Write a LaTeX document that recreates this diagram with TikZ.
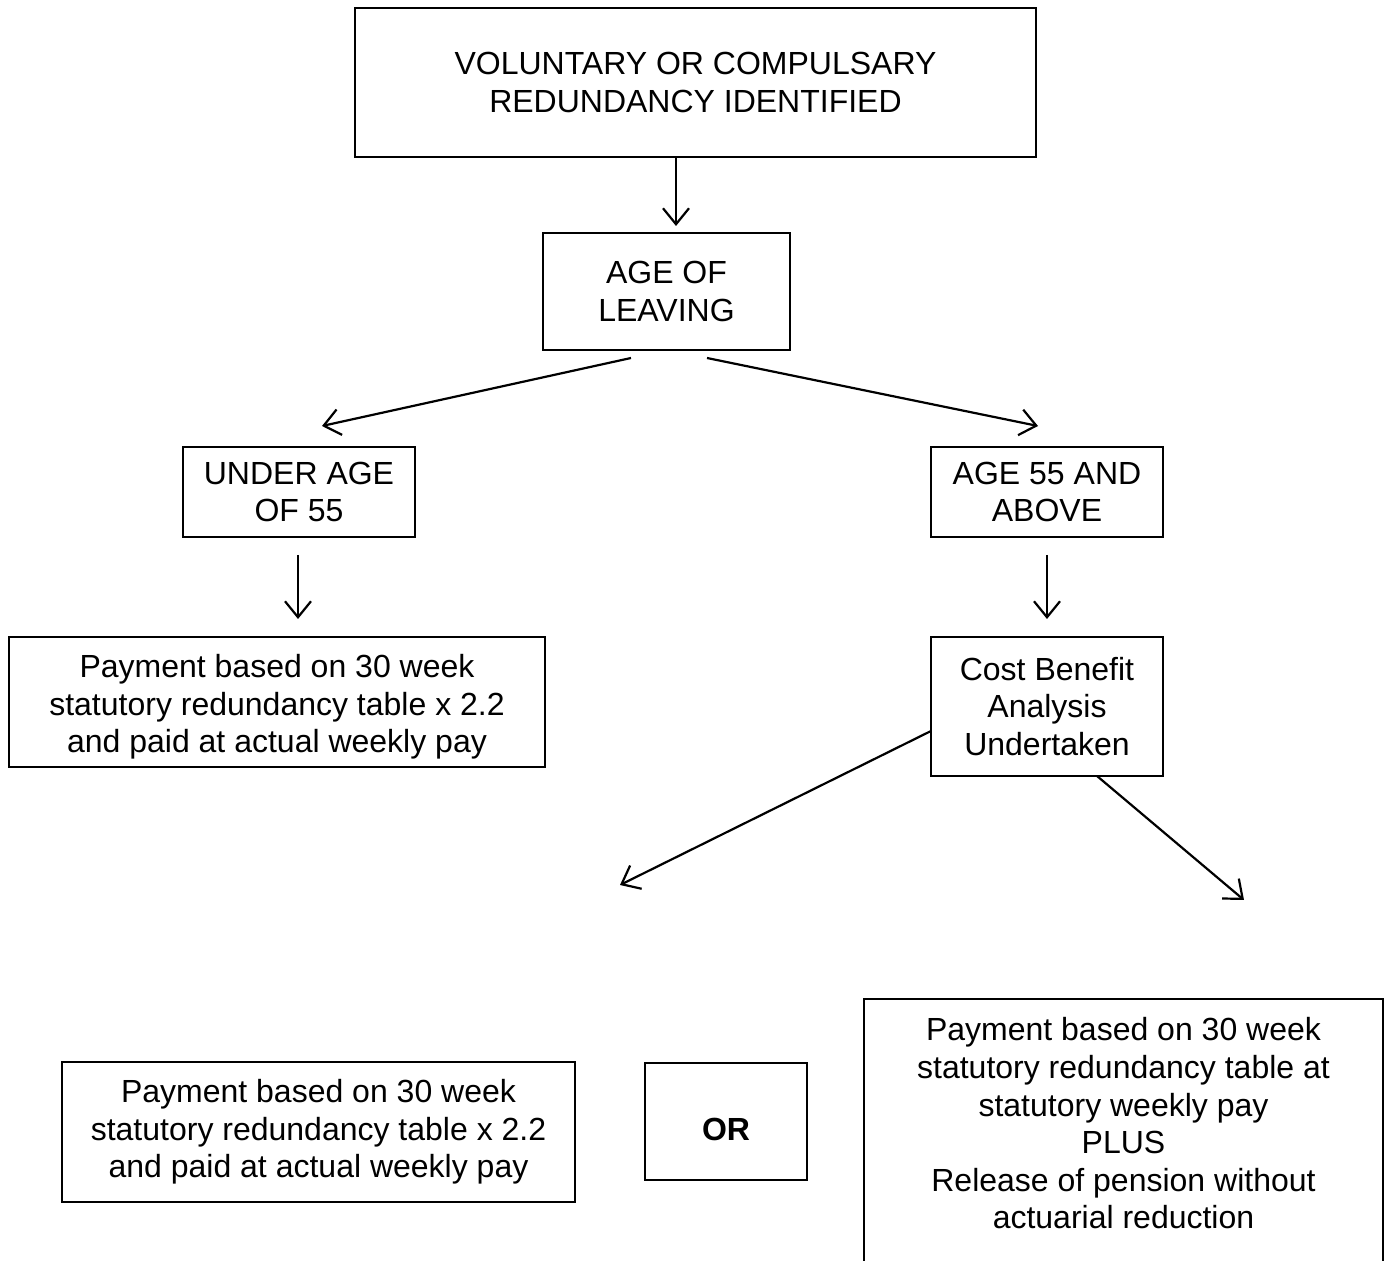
\documentclass[tikz,border=0pt]{standalone}
\usepackage{fontspec}
\setmainfont{Liberation Sans}
\usetikzlibrary{arrows.meta}
\begin{document}
\begin{tikzpicture}[x=0.5pt,y=-0.5pt,
  box/.style={draw, line width=1.1pt, inner sep=0pt, align=center,
    font=\fontsize{16pt}{18.8pt}\selectfont},
  arr/.style={line width=1.1pt, -{Straight Barb[length=8pt,width=13pt,line width=1.1pt]}}]
\useasboundingbox (0,0) rectangle (1388,1261);
\node[box, minimum width=340.5pt, minimum height=74.5pt] (top) at (695.5,82.5) {VOLUNTARY OR COMPULSARY\\REDUNDANCY IDENTIFIED};
\node[box, minimum width=123.5pt, minimum height=58.5pt] (age) at (666.5,291.5) {AGE OF\\LEAVING};
\node[box, minimum width=116pt, minimum height=45pt] (under) at (299,492) {UNDER AGE\\OF 55};
\node[box, minimum width=116pt, minimum height=45pt] (above) at (1047,492) {AGE 55 AND\\ABOVE};
\node[box, minimum width=268pt, minimum height=65pt] (payl) at (277,702) {};
\node[box, draw=none] (paylt) at (277,707) {Payment based on 30 week\\statutory redundancy table x 2.2\\and paid at actual weekly pay};
\node[box, minimum width=116pt, minimum height=69.5pt] (cost) at (1047,706.5) {Cost Benefit\\Analysis\\Undertaken};
\node[box, minimum width=256.5pt, minimum height=70pt] (payb) at (318.5,1132) {Payment based on 30 week\\statutory redundancy table x 2.2\\and paid at actual weekly pay};
\node[box, minimum width=81pt, minimum height=58.5pt] (or) at (726,1121.5) {};
\node[box, draw=none, font=\fontsize{16pt}{18.8pt}\selectfont\bfseries] (ort) at (726,1129) {OR};
\node[box, draw=none, minimum width=258.5pt, minimum height=130.5pt] (payr) at (1123.5,1130.5) {};
\node[box, draw=none] (payrt) at (1123.5,1123.5) {Payment based on 30 week\\statutory redundancy table at\\statutory weekly pay\\PLUS\\Release of pension without\\actuarial reduction};
\draw[line width=1.1pt] (payr.south west) -- (payr.north west) -- (payr.north east) -- (payr.south east);
% arrow end points
\coordinate (a1s) at (676,157);  \coordinate (a1e) at (676,226);
\coordinate (a2s) at (631,358);  \coordinate (a2e) at (322,426);
\coordinate (a3s) at (707,358);  \coordinate (a3e) at (1038,426);
\coordinate (a4s) at (298,555);  \coordinate (a4e) at (298,619);
\coordinate (a5s) at (1047,555); \coordinate (a5e) at (1047,619);
\coordinate (a6s) at (931,731);  \coordinate (a6e) at (620,885);
\coordinate (a7s) at (1097,776); \coordinate (a7e) at (1244,900);
\draw[arr] (a1s) -- (a1e);
\draw[arr] (a2s) -- (a2e);
\draw[arr] (a3s) -- (a3e);
\draw[arr] (a4s) -- (a4e);
\draw[arr] (a5s) -- (a5e);
\draw[arr] (a6s) -- (a6e);
\draw[arr] (a7s) -- (a7e);
\end{tikzpicture}
\end{document}
